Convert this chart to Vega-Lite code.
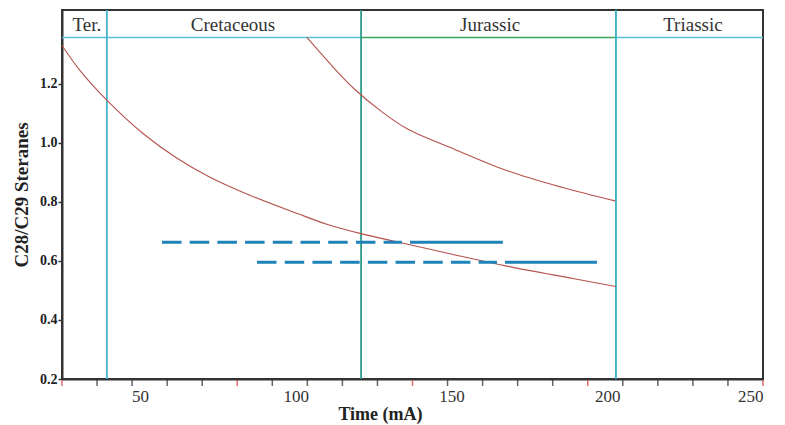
{
  "$schema": "https://vega.github.io/schema/vega-lite/v6.json",
  "autosize": {"type": "none"},
  "padding": {"left": 62, "top": 10, "right": 22, "bottom": 46},
  "width": 701,
  "height": 369,
  "background": "white",
  "config": {
    "view": {"stroke": "#333333", "strokeWidth": 2},
    "font": "Liberation Serif"
  },
  "datasets": {
    "curves": [
      {"series": "c1", "t": 25.0, "r": 1.329},
      {"series": "c1", "t": 30.8, "r": 1.244},
      {"series": "c1", "t": 39.3, "r": 1.145},
      {"series": "c1", "t": 51.1, "r": 1.030},
      {"series": "c1", "t": 61.8, "r": 0.948},
      {"series": "c1", "t": 72.5, "r": 0.883},
      {"series": "c1", "t": 85.3, "r": 0.822},
      {"series": "c1", "t": 100.8, "r": 0.759},
      {"series": "c1", "t": 110.0, "r": 0.724},
      {"series": "c1", "t": 121.0, "r": 0.692},
      {"series": "c1", "t": 133.5, "r": 0.662},
      {"series": "c1", "t": 149.5, "r": 0.624},
      {"series": "c1", "t": 167.8, "r": 0.582},
      {"series": "c1", "t": 189.0, "r": 0.540},
      {"series": "c1", "t": 202.8, "r": 0.513},
      {"series": "c2", "t": 103.6, "r": 1.356},
      {"series": "c2", "t": 112.0, "r": 1.256},
      {"series": "c2", "t": 119.0, "r": 1.180},
      {"series": "c2", "t": 127.6, "r": 1.105},
      {"series": "c2", "t": 136.1, "r": 1.045},
      {"series": "c2", "t": 151.1, "r": 0.977},
      {"series": "c2", "t": 168.2, "r": 0.904},
      {"series": "c2", "t": 185.4, "r": 0.849},
      {"series": "c2", "t": 202.5, "r": 0.803}
    ],
    "ranges": [
      {"seg": "a1", "style": "dashed", "t": 57.1, "r": 0.663},
      {"seg": "a1", "style": "dashed", "t": 134.1, "r": 0.663},
      {"seg": "a2", "style": "solid", "t": 136.7, "r": 0.663},
      {"seg": "a2", "style": "solid", "t": 166.5, "r": 0.663},
      {"seg": "b1", "style": "dashed", "t": 87.6, "r": 0.595},
      {"seg": "b1", "style": "dashed", "t": 164.6, "r": 0.595},
      {"seg": "b2", "style": "solid", "t": 167.2, "r": 0.595},
      {"seg": "b2", "style": "solid", "t": 196.7, "r": 0.595}
    ],
    "vlines": [
      {"t": 39.4, "c": "#45b3cc"},
      {"t": 121.0, "c": "#2a9d8a"},
      {"t": 202.8, "c": "#3aafbf"}
    ],
    "hlines": [
      {"t1": 25, "t2": 121.0, "c": "#5bbfdc"},
      {"t1": 121.0, "t2": 202.8, "c": "#3fa45e"},
      {"t1": 202.8, "t2": 250, "c": "#5bbfdc"}
    ],
    "periods": [
      {"name": "Ter.", "t": 33.0},
      {"name": "Cretaceous", "t": 79.9},
      {"name": "Jurassic", "t": 162.4},
      {"name": "Triassic", "t": 227.5}
    ],
    "xticks": [
      {"t": 25.0, "major": "y"}, {"t": 36.25, "major": "n"}, {"t": 47.5, "major": "n"}, {"t": 58.75, "major": "n"},
      {"t": 70.0, "major": "n"}, {"t": 81.25, "major": "y"}, {"t": 92.5, "major": "n"}, {"t": 103.75, "major": "n"},
      {"t": 115.0, "major": "n"}, {"t": 126.25, "major": "n"}, {"t": 137.5, "major": "y"}, {"t": 148.75, "major": "n"},
      {"t": 160.0, "major": "n"}, {"t": 171.25, "major": "n"}, {"t": 182.5, "major": "n"}, {"t": 193.75, "major": "y"},
      {"t": 205.0, "major": "n"}, {"t": 216.25, "major": "n"}, {"t": 227.5, "major": "n"}, {"t": 238.75, "major": "n"},
      {"t": 250.0, "major": "y"}
    ]
  },
  "layer": [
    {
      "data": {"name": "hlines"},
      "mark": {"type": "rule", "strokeWidth": 1.5},
      "encoding": {
        "x": {"field": "t1", "type": "quantitative", "scale": {"domain": [25, 250], "nice": false, "zero": false},
          "axis": {"values": [50, 100, 150, 200, 250], "ticks": false, "grid": false, "domainColor": "#333333", "domainWidth": 2,
            "labelFont": "Liberation Serif", "labelFontSize": 17, "labelColor": "#333333", "labelPadding": 9,
            "title": "Time (mA)", "titleFont": "Liberation Serif", "titleFontSize": 18, "titleFontWeight": "bold", "titleColor": "#222222",
            "titleX": 318, "titleY": 26, "titleBaseline": "top", "titleAnchor": null, "titleAlign": "center"}},
        "x2": {"field": "t2"},
        "y": {"datum": 1.356, "type": "quantitative", "scale": {"domain": [0.2, 1.449], "nice": false, "zero": false},
          "axis": {"values": [0.2, 0.4, 0.6, 0.8, 1.0, 1.2], "format": ".1f", "grid": false, "domainColor": "#333333", "domainWidth": 2,
            "tickColor": "#333333", "tickSize": 4, "tickWidth": 1.5, "labelPadding": 1,
            "labelFont": "Liberation Serif", "labelFontSize": 14, "labelFontWeight": "bold", "labelColor": "#222222",
            "title": "C28/C29 Steranes", "titleFont": "Liberation Serif", "titleFontSize": 19, "titleFontWeight": "bold", "titleColor": "#222222",
            "titlePadding": 8}},
        "color": {"field": "c", "type": "nominal", "scale": null}
      }
    },
    {
      "data": {"name": "vlines"},
      "mark": {"type": "rule", "strokeWidth": 1.8},
      "encoding": {
        "x": {"field": "t", "type": "quantitative"},
        "y": {"datum": 0.2, "type": "quantitative"},
        "y2": {"datum": 1.449},
        "color": {"field": "c", "type": "nominal", "scale": null}
      }
    },
    {
      "data": {"name": "curves"},
      "mark": {"type": "line", "interpolate": "catmull-rom", "strokeWidth": 1.1, "color": "#b5524d"},
      "encoding": {
        "x": {"field": "t", "type": "quantitative"},
        "y": {"field": "r", "type": "quantitative"},
        "detail": {"field": "series"}
      }
    },
    {
      "data": {"name": "ranges"},
      "mark": {"type": "line", "strokeWidth": 3, "color": "#1f82b8"},
      "encoding": {
        "x": {"field": "t", "type": "quantitative"},
        "y": {"field": "r", "type": "quantitative"},
        "detail": {"field": "seg"},
        "strokeDash": {"field": "style", "type": "nominal", "scale": {"domain": ["dashed", "solid"], "range": [[19.5, 8.2], [1, 0]]}, "legend": null}
      }
    },
    {
      "data": {"name": "periods"},
      "mark": {"type": "text", "font": "Liberation Serif", "fontSize": 19, "color": "#333333", "baseline": "middle"},
      "encoding": {
        "x": {"field": "t", "type": "quantitative"},
        "y": {"datum": 1.399, "type": "quantitative"},
        "text": {"field": "name"}
      }
    },
    {
      "data": {"name": "xticks"},
      "mark": {"type": "tick", "orient": "vertical", "size": 6, "thickness": 1.5, "yOffset": 4},
      "encoding": {
        "x": {"field": "t", "type": "quantitative"},
        "y": {"datum": 0.2, "type": "quantitative"},
        "color": {"field": "major", "type": "nominal", "scale": {"domain": ["y", "n"], "range": ["#d03030", "#222222"]}, "legend": null}
      }
    }
  ]
}
